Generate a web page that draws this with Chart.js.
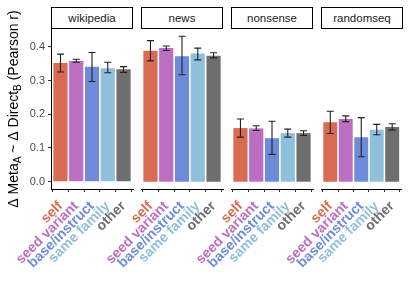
<!DOCTYPE html>
<html>
<head>
<meta charset="utf-8">
<script src="https://cdn.jsdelivr.net/npm/chart.js@4"></script>
<style>
    html, body { margin: 0; padding: 0; background: #fff; }
    #wrap { position: relative; width: 411px; height: 294px; overflow: hidden; }
    #wrap canvas { position: absolute; left: 0; top: 0; }
    .strip {
        position: absolute; top: 7px; height: 22px; width: 82px;
        box-sizing: border-box; border: 1px solid #000; background: #fff;
        font: 11.5px "Liberation Sans", Arial, sans-serif; color: #1a1a1a;
        text-align: center; line-height: 20px;
    }
</style>
</head>
<body>
<div id="wrap"></div>
<script>
// facets and model relation categories
const facets = ['wikipedia', 'news', 'nonsense', 'randomseq'];
const sources = ['self', 'seed variant', 'base/instruct', 'same family', 'other'];

// mean Pearson r, lower and upper error bar per facet
const wikipediaMean = [0.352, 0.358, 0.341, 0.336, 0.333];
const wikipediaLow  = [0.325, 0.354, 0.297, 0.323, 0.324];
const wikipediaHigh = [0.378, 0.363, 0.383, 0.354, 0.341];

const newsMean = [0.388, 0.396, 0.372, 0.380, 0.373];
const newsLow  = [0.358, 0.389, 0.317, 0.361, 0.367];
const newsHigh = [0.418, 0.402, 0.431, 0.396, 0.382];

const nonsenseMean = [0.159, 0.158, 0.129, 0.144, 0.144];
const nonsenseLow  = [0.132, 0.152, 0.081, 0.132, 0.137];
const nonsenseHigh = [0.186, 0.166, 0.179, 0.156, 0.151];

const randomseqMean = [0.176, 0.186, 0.132, 0.154, 0.162];
const randomseqLow  = [0.143, 0.178, 0.074, 0.139, 0.153];
const randomseqHigh = [0.209, 0.195, 0.190, 0.170, 0.172];

const yTicks = [0, 0.1, 0.2, 0.3, 0.4];

const SourceColors = ['#D96B52', '#BC6FC2', '#6D8BD9', '#8EC0DC', '#6E6E6E'];
const FONT = '"Liberation Sans", Arial, sans-serif';

const panelData = [
    { mean: wikipediaMean, low: wikipediaLow, high: wikipediaHigh },
    { mean: newsMean, low: newsLow, high: newsHigh },
    { mean: nonsenseMean, low: nonsenseLow, high: nonsenseHigh },
    { mean: randomseqMean, low: randomseqLow, high: randomseqHigh }
];

// error bars drawn on top of the bars
const errorBars = {
    id: 'errorBars',
    afterDatasetsDraw(chart, args, opts) {
        const ctx = chart.ctx, xs = chart.scales.x, ys = chart.scales.y;
        ctx.save();
        ctx.strokeStyle = '#222';
        ctx.lineWidth = 1.1;
        opts.low.forEach((lo, i) => {
            const x = xs.getPixelForValue(i + 1);
            const y1 = ys.getPixelForValue(lo);
            const y2 = ys.getPixelForValue(opts.high[i]);
            ctx.beginPath();
            ctx.moveTo(x, y1); ctx.lineTo(x, y2);
            ctx.moveTo(x - 3.5, y1); ctx.lineTo(x + 3.5, y1);
            ctx.moveTo(x - 3.5, y2); ctx.lineTo(x + 3.5, y2);
            ctx.stroke();
        });
        ctx.restore();
    }
};

// y title with subscripts (only on first panel)
const yTitle = {
    id: 'yTitle',
    afterDraw(chart) {
        const ctx = chart.ctx;
        const parts = [
            ['\u0394 Meta', false], ['A', true], [' ~ \u0394 Direct', false], ['B', true], [' (Pearson r)', false]
        ];
        const big = '14px ' + FONT, small = '10px ' + FONT;
        ctx.save();
        let total = 0;
        parts.forEach(p => { ctx.font = p[1] ? small : big; total += ctx.measureText(p[0]).width; });
        ctx.translate(13, 109);
        ctx.rotate(-Math.PI / 2);
        ctx.fillStyle = '#000';
        ctx.textBaseline = 'alphabetic';
        let x = -total / 2;
        parts.forEach(p => {
            ctx.font = p[1] ? small : big;
            ctx.fillText(p[0], x, p[1] ? 8 : 5);
            x += ctx.measureText(p[0]).width;
        });
        ctx.restore();
    }
};

const wrap = document.getElementById('wrap');

facets.forEach((facet, f) => {
    const left = 51 + 90 * f;
    const right = 411 - (left + 82);

    const canvas = document.createElement('canvas');
    canvas.width = 411; canvas.height = 294;
    wrap.appendChild(canvas);

    const strip = document.createElement('div');
    strip.className = 'strip';
    strip.style.left = left + 'px';
    strip.textContent = facet;
    wrap.appendChild(strip);

    const d = panelData[f];
    const first = f === 0;

    new Chart(canvas.getContext('2d'), {
        type: 'bar',
        data: {
            datasets: [{
                data: d.mean.map((v, i) => ({ x: i + 1, y: v })),
                backgroundColor: SourceColors,
                borderWidth: 0,
                barPercentage: 0.9,
                categoryPercentage: 1
            }]
        },
        options: {
            responsive: false,
            animation: false,
            devicePixelRatio: 1,
            layout: { padding: { left: first ? 0 : left, right: right, top: 29, bottom: 0 } },
            plugins: {
                legend: { display: false },
                tooltip: { enabled: false },
                errorBars: { low: d.low, high: d.high }
            },
            scales: {
                x: {
                    type: 'linear',
                    min: 0.4,
                    max: 5.6,
                    offset: false,
                    afterBuildTicks: s => { s.ticks = sources.map((_, i) => ({ value: i + 1 })); },
                    afterFit: s => { s.height = 105; },
                    grid: { drawOnChartArea: false, drawTicks: true, tickLength: 3, color: '#333' },
                    border: { display: true, color: '#000', width: 1 },
                    ticks: {
                        autoSkip: false,
                        minRotation: 45,
                        maxRotation: 45,
                        padding: 6,
                        callback: v => sources[v - 1],
                        color: c => SourceColors[c.index],
                        font: { family: FONT, size: 14, weight: 'bold' }
                    }
                },
                y: {
                    display: first,
                    min: -0.0216,
                    max: 0.4526,
                    afterBuildTicks: s => { s.ticks = yTicks.map(v => ({ value: v })); },
                    afterFit: s => { s.width = first ? 51 : 0; },
                    grid: { drawOnChartArea: false, drawTicks: true, tickLength: 3, color: '#333' },
                    border: { display: true, color: '#000', width: 1 },
                    ticks: {
                        padding: 3,
                        color: '#4D4D4D',
                        callback: v => v.toFixed(1),
                        font: { family: FONT, size: 11 }
                    }
                }
            }
        },
        plugins: first ? [errorBars, yTitle] : [errorBars]
    });
});
</script>
</body>
</html>
